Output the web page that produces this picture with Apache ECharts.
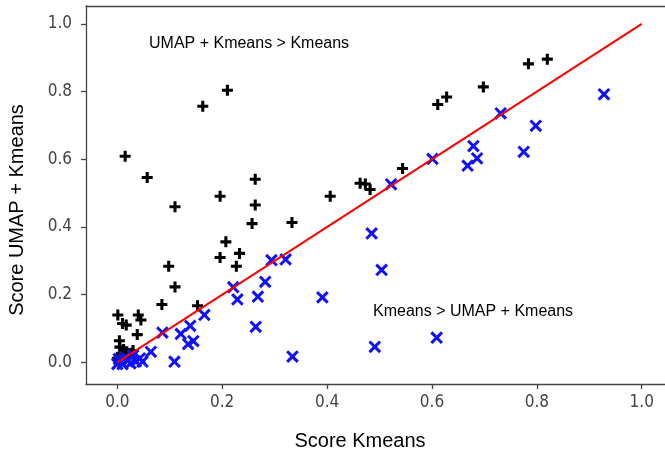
<!DOCTYPE html>
<html>
<head>
<meta charset="utf-8">
<script src="https://cdn.jsdelivr.net/npm/echarts@6/dist/echarts.min.js"></script>
<style>
html,body{margin:0;padding:0;background:#fff;}
#chart{width:665px;height:459px;}
</style>
</head>
<body>
<div id="chart"></div>
<script>
// Black "+" : UMAP + Kmeans better
const blackX = [0.210,0.163,0.015,0.057,0.263,0.196,0.406,0.463,0.473,0.482,0.611,0.628,0.698,0.784,0.820,0.544,0.110,0.263,0.257,0.333,0.207,0.196,0.233,0.227,0.098,0.110,0.085,0.153,0.001,0.010,0.017,0.040,0.045,0.038,0.004,0.000,0.008,0.018,0.026,0.021,0.005,0.012,0.003,0.030];
const blackY = [0.804,0.757,0.609,0.546,0.541,0.491,0.491,0.529,0.527,0.511,0.762,0.784,0.814,0.882,0.896,0.573,0.460,0.465,0.410,0.413,0.356,0.310,0.322,0.284,0.284,0.223,0.171,0.167,0.140,0.115,0.110,0.140,0.125,0.082,0.064,0.012,0.027,0.031,0.027,0.017,0.045,0.038,0.005,0.035];
// Blue "x" : Kmeans better
const blueX = [0.928,0.731,0.798,0.679,0.686,0.668,0.775,0.601,0.522,0.294,0.321,0.485,0.282,0.221,0.229,0.268,0.391,0.166,0.139,0.121,0.086,0.145,0.135,0.264,0.064,0.048,0.109,0.334,0.491,0.609,0.504,0.043,0.030,0.020,0.010,0.000,0.005,0.025,0.035,0.015,0.003];
const blueY = [0.792,0.736,0.699,0.639,0.603,0.581,0.622,0.601,0.526,0.302,0.304,0.381,0.238,0.222,0.186,0.194,0.192,0.140,0.108,0.084,0.088,0.063,0.054,0.105,0.031,0.002,0.002,0.017,0.046,0.073,0.273,0.012,0.020,0.005,-0.005,-0.005,0.005,-0.003,0.003,0.015,0.010];
const lineX = [0, 1];
const lineY = [0, 1];
const tickValues = [0.0, 0.2, 0.4, 0.6, 0.8, 1.0];
const xTitle = 'Score Kmeans';
const yTitle = 'Score UMAP + Kmeans';
const noteTop = 'UMAP + Kmeans > Kmeans';
const noteBottom = 'Kmeans > UMAP + Kmeans';

const zip = (a, b) => a.map((v, i) => [v, b[i]]);
const PLUS = 'path://M3.6,0H6.4V3.6H10V6.4H6.4V10H3.6V6.4H0V3.6H3.6Z';
const XP = 'path://M4,0H6V4H10V6H6V10H4V6H0V4H4Z';
const tickFont = {fontFamily: "'DejaVu Sans Condensed','DejaVu Sans',sans-serif", fontSize: 17, color: '#444'};
const titleFont = "'Liberation Sans',Arial,sans-serif";
const spine = {show: true, onZero: false, lineStyle: {color: '#444', width: 1.3}};

const chart = echarts.init(document.getElementById('chart'), null, {renderer: 'canvas'});
chart.setOption({
  animation: false,
  backgroundColor: '#fff',
  grid: {left: 86, top: 6, right: 0, bottom: 75, show: false},
  xAxis: [{
    type: 'value', min: -0.0597, max: 1.0444,
    splitLine: {show: false},
    axisLine: spine,
    axisTick: {show: true, inside: false, length: 5, lineStyle: {color: '#444', width: 1.3}, customValues: tickValues},
    axisLabel: Object.assign({margin: 10, customValues: tickValues, formatter: v => v.toFixed(1)}, tickFont)
  }, {
    type: 'value', position: 'top', min: -0.0597, max: 1.0444,
    splitLine: {show: false},
    axisLine: spine,
    axisTick: {show: false},
    axisLabel: {show: false}
  }],
  yAxis: {
    type: 'value', min: -0.064, max: 1.053,
    splitLine: {show: false},
    axisLine: spine,
    axisTick: {show: true, inside: false, length: 5, lineStyle: {color: '#444', width: 1.3}, customValues: tickValues},
    axisLabel: Object.assign({margin: 14, customValues: tickValues, formatter: v => v.toFixed(1)}, tickFont)
  },
  series: [
    {type: 'scatter', data: zip(blackX, blackY), symbol: PLUS, symbolSize: 11,
     itemStyle: {color: '#000', opacity: 1}, z: 2},
    {type: 'scatter', data: zip(blueX, blueY), symbol: XP, symbolSize: 15, symbolRotate: 45,
     itemStyle: {color: '#1010ff', opacity: 1}, z: 3},
    {type: 'line', data: zip(lineX, lineY), symbol: 'none',
     lineStyle: {color: '#ff0000', width: 2}, z: 4}
  ],
  graphic: [
    {type: 'text', x: 360, y: 441, style: {text: xTitle, font: '20px ' + titleFont, fill: '#000', textAlign: 'center', textVerticalAlign: 'middle'}},
    {type: 'text', x: 17, y: 210, rotation: Math.PI / 2, style: {text: yTitle, font: '20px ' + titleFont, fill: '#000', textAlign: 'center', textVerticalAlign: 'middle'}},
    {type: 'text', x: 149, y: 44, style: {text: noteTop, font: '16px ' + titleFont, fill: '#000', textAlign: 'left', textVerticalAlign: 'middle'}},
    {type: 'text', x: 373, y: 312, style: {text: noteBottom, font: '16px ' + titleFont, fill: '#000', textAlign: 'left', textVerticalAlign: 'middle'}}
  ]
});
</script>
</body>
</html>
